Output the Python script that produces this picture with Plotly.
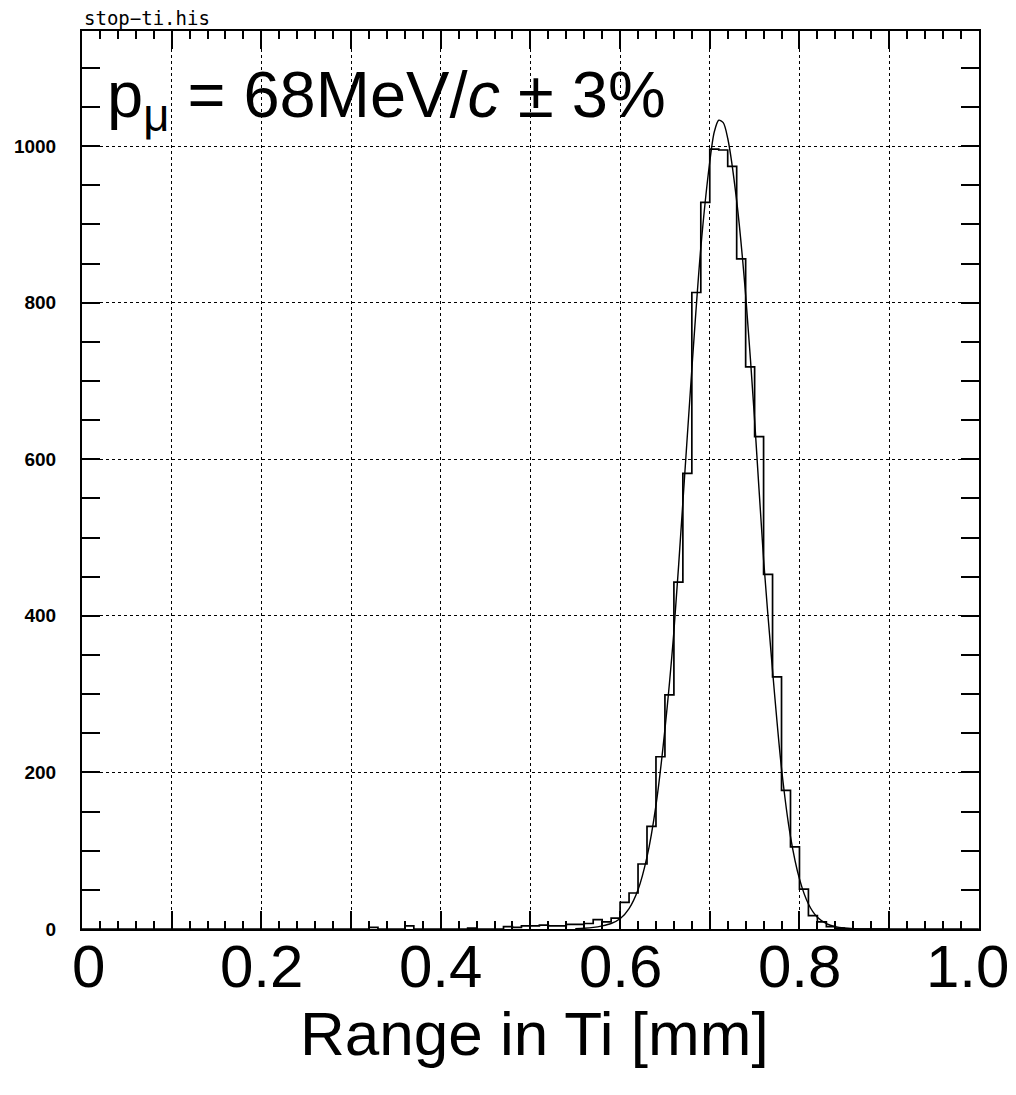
import plotly.graph_objects as go

# ---------------- data ----------------
bin_width = 0.01
bin_left_edges = [round(i * 0.01, 2) for i in range(100)]
# counts per 0.01-wide bin, only non-zero bins listed (bin start -> count)
nonzero_bins = {
    0.32: 2, 0.36: 4, 0.43: 1, 0.47: 3, 0.48: 2, 0.49: 4,
    0.50: 4, 0.51: 5, 0.52: 4, 0.53: 4, 0.54: 6, 0.55: 6, 0.56: 7,
    0.57: 12, 0.58: 9, 0.59: 14, 0.60: 34, 0.61: 46, 0.62: 83,
    0.63: 131, 0.64: 220, 0.65: 299, 0.66: 443, 0.67: 582, 0.68: 813,
    0.69: 928, 0.70: 996, 0.71: 995, 0.72: 974, 0.73: 856, 0.74: 718,
    0.75: 629, 0.76: 453, 0.77: 322, 0.78: 177, 0.79: 105, 0.80: 51,
    0.81: 17, 0.82: 9, 0.83: 3, 0.84: 1,
}
counts = [nonzero_bins.get(e, 0) for e in bin_left_edges]

fit_x = [0.55, 0.56, 0.57, 0.58, 0.59, 0.60, 0.61, 0.62, 0.63, 0.64, 0.65,
         0.66, 0.67, 0.68, 0.69, 0.70, 0.705, 0.71, 0.715, 0.72, 0.73, 0.74,
         0.75, 0.76, 0.77, 0.78, 0.79, 0.80, 0.81, 0.82, 0.83, 0.84, 0.85,
         0.86, 0.88, 0.90]
fit_y = [0.5, 1, 2, 4, 7, 13, 26, 50, 92, 158, 255,
         380, 545, 715, 870, 980, 1018, 1033, 1030, 1010, 930, 810,
         650, 472, 330, 205, 118, 64, 32, 15, 7, 3, 1.2,
         0.5, 0.1, 0]

x_tickvals = [0.0, 0.2, 0.4, 0.6, 0.8, 1.0]
x_ticktext = ["0", "0.2", "0.4", "0.6", "0.8", "1.0"]
y_tickvals = [0, 200, 400, 600, 800, 1000]
y_ticktext = ["0", "200", "400", "600", "800", "1000"]

X_RANGE = [0, 1.0002]
Y_RANGE = [0, 1147]

# ---------------- figure ----------------
step_x = bin_left_edges + [bin_left_edges[-1] + bin_width]
step_y = counts + [counts[-1]]

fig = go.Figure()
fig.add_trace(go.Scatter(x=step_x, y=step_y, mode="lines", line_shape="hv",
                         line=dict(color="black", width=1.7), hoverinfo="skip"))
fig.add_trace(go.Scatter(x=fit_x, y=fit_y, mode="lines", line_shape="spline",
                         line=dict(color="black", width=1.4, smoothing=0.8),
                         hoverinfo="skip", xaxis="x2", yaxis="y"))

grid = dict(gridcolor="black", gridwidth=1, griddash="dot")

# x tick labels drawn as annotations so that the end labels stay on the page
label_shift = {0: 6, len(x_tickvals) - 1: -11}
annotations = []
for i, (v, t) in enumerate(zip(x_tickvals, x_ticktext)):
    annotations.append(dict(
        text=t, xref="x", yref="paper", x=v, y=0, xanchor="center",
        yanchor="top", yshift=-2, xshift=label_shift.get(i, 0), showarrow=False,
        font=dict(family="Liberation Sans", size=60, color="black")))

annotations += [
    dict(text="stop\u2212ti.his", xref="paper", yref="paper", x=0, y=1,
         xanchor="left", yanchor="bottom", yshift=0, showarrow=False,
         font=dict(family="DejaVu Sans Mono", size=19, color="black")),
    dict(text="p<sub>\u03bc</sub> = 68MeV/<i>c</i> \u00b1 3%",
         xref="paper", yref="paper", x=0.0255, y=0.972,
         xanchor="left", yanchor="top", showarrow=False,
         font=dict(family="Liberation Sans", size=65, color="black")),
    dict(text="Range in Ti [mm]", xref="paper", yref="paper", x=0.5, y=0,
         xanchor="center", yanchor="top", yshift=-68, xshift=4, showarrow=False,
         font=dict(family="Liberation Sans", size=62, color="black")),
]

fig.update_layout(
    xaxis=dict(
        range=X_RANGE, tickmode="array", tickvals=x_tickvals,
        showticklabels=False,
        showline=True, linecolor="black", linewidth=2, mirror="allticks",
        ticks="inside", tickcolor="black", tickwidth=1.5, ticklen=18,
        showgrid=True, **grid, zeroline=False, automargin=False,
        minor=dict(dtick=0.1, tick0=0, ticks="inside", ticklen=18,
                   tickcolor="black", tickwidth=1.5, showgrid=True, **grid),
    ),
    xaxis2=dict(
        range=X_RANGE, overlaying="x", anchor="y", side="bottom",
        showticklabels=False, showgrid=False, zeroline=False, automargin=False,
        showline=True, linecolor="black", linewidth=2, mirror="allticks",
        tickmode="linear", tick0=0, dtick=0.02,
        ticks="inside", ticklen=8, tickcolor="black", tickwidth=1.5,
    ),
    yaxis=dict(
        range=Y_RANGE, tickmode="array", tickvals=y_tickvals, ticktext=y_ticktext,
        tickfont=dict(family="Liberation Sans", size=19, color="black", weight="bold"),
        ticklabelstandoff=20,
        showline=True, linecolor="black", linewidth=2, mirror="allticks",
        ticks="inside", tickcolor="black", tickwidth=1.5, ticklen=18,
        showgrid=True, **grid, zeroline=False, automargin=False,
        minor=dict(dtick=50, tick0=0, ticks="inside", ticklen=8, tickcolor="black",
                   tickwidth=1.5, showgrid=False),
    ),
    width=1000, height=1079,
    margin=dict(l=74, r=29, t=23, b=158),
    paper_bgcolor="white", plot_bgcolor="white",
    showlegend=False,
    annotations=annotations,
)

fig.write_html("out.html")
